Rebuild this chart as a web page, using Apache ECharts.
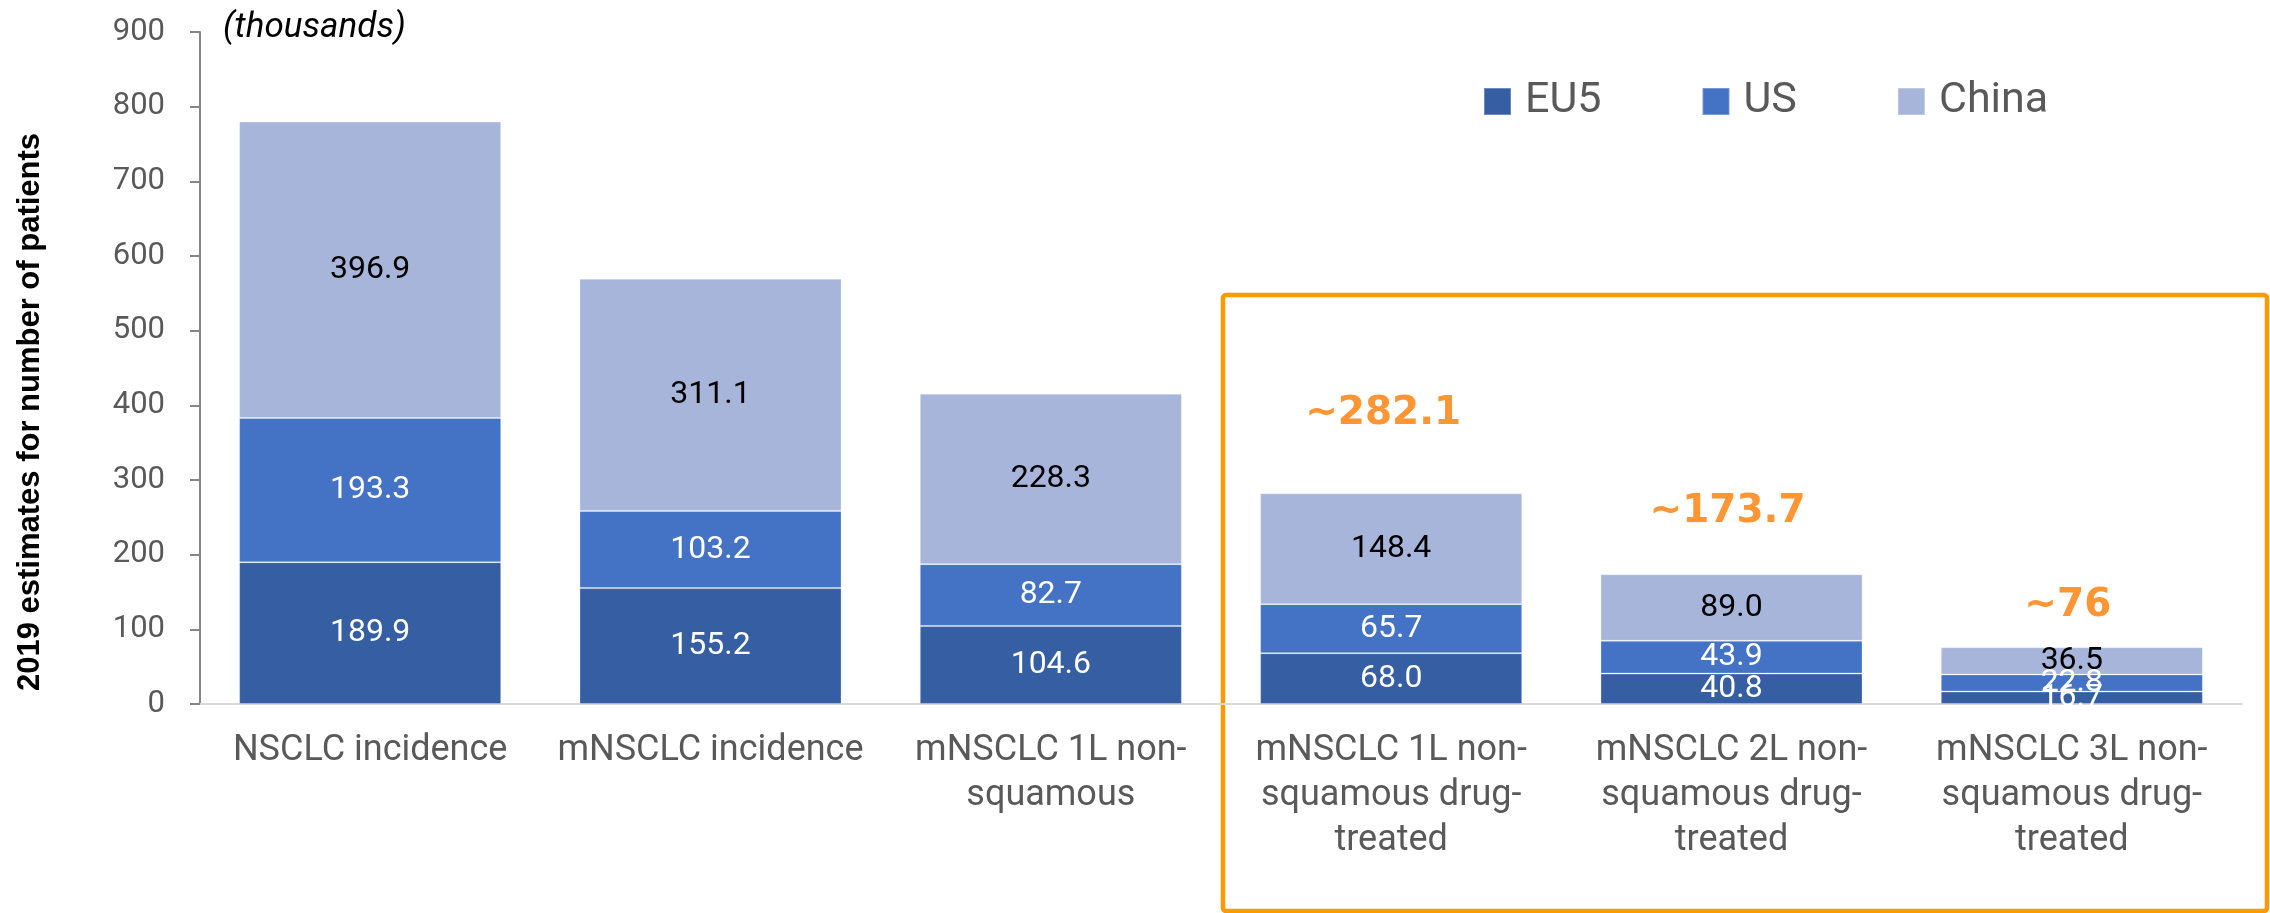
<!DOCTYPE html>
<html>
<head>
<meta charset="utf-8">
<script src="https://cdn.jsdelivr.net/npm/echarts@6/dist/echarts.min.js"></script>
<style>
html,body{margin:0;padding:0;background:#fff;}
#main{width:2270px;height:913px;}
</style>
</head>
<body>
<div id="main"></div>
<script>
const categories = [
  'NSCLC incidence',
  'mNSCLC incidence',
  'mNSCLC 1L non-\nsquamous',
  'mNSCLC 1L non-\nsquamous drug-\ntreated',
  'mNSCLC 2L non-\nsquamous drug-\ntreated',
  'mNSCLC 3L non-\nsquamous drug-\ntreated'
];
const seriesNames = ['EU5', 'US', 'China'];
const eu5Values = [189.9, 155.2, 104.6, 68.0, 40.8, 16.7];
const usValues = [193.3, 103.2, 82.7, 65.7, 43.9, 22.8];
const chinaValues = [396.9, 311.1, 228.3, 148.4, 89.0, 36.5];
const showTotal = [false, false, false, true, true, true];
const yAxisTitle = '2019 estimates for number of patients';
const unitText = '(thousands)';

const totals = eu5Values.map((v, i) => parseFloat((v + usValues[i] + chinaValues[i]).toFixed(1)));

const chart = echarts.init(document.getElementById('main'), null, {renderer: 'canvas'});

const colors = ['#365EA2', '#4472C4', '#A7B5DA'];
const labelColors = ['#ffffff', '#ffffff', '#000000'];
const totalLift = [0, 0, 0, 79, 62, 41];
const totalShift = [0, 0, 0, -8, -4, -4];

function barSeries(name, values, idx) {
  return {
    name: name,
    type: 'bar',
    stack: 'total',
    barWidth: '77%',
    data: values,
    itemStyle: {color: colors[idx], borderColor: 'rgba(255,255,255,0.28)', borderWidth: 1},
    label: {
      show: true,
      position: 'inside',
      formatter: p => p.value.toFixed(1),
      color: labelColors[idx],
      fontFamily: 'Roboto',
      fontSize: 32
    },
    emphasis: {disabled: true}
  };
}

const option = {
  animation: false,
  backgroundColor: '#ffffff',
  grid: {left: 200, right: 28, top: 32, bottom: 209, containLabel: false},
  legend: {
    data: seriesNames,
    left: 1483,
    top: 80,
    padding: 0,
    itemWidth: 27,
    itemHeight: 27,
    itemGap: 100,
    icon: 'rect',
    textStyle: {fontFamily: 'Roboto', fontSize: 43, color: '#595959', padding: [0, 0, 0, 9]}
  },
  xAxis: {
    type: 'category',
    data: categories,
    axisLine: {show: true, lineStyle: {color: '#D9D9D9', width: 2}},
    axisTick: {show: false},
    axisLabel: {
      interval: 0,
      margin: 24,
      fontFamily: 'Roboto',
      fontSize: 36,
      lineHeight: 45,
      color: '#595959',
      verticalAlign: 'top'
    }
  },
  yAxis: {
    type: 'value',
    min: 0,
    max: 900,
    interval: 100,
    axisLine: {show: true, lineStyle: {color: '#868686', width: 2}},
    axisTick: {show: true, length: 10, lineStyle: {color: '#868686', width: 2}},
    splitLine: {show: false},
    axisLabel: {margin: 35, fontFamily: 'Roboto', fontSize: 31, color: '#595959'}
  },
  series: [
    barSeries(seriesNames[0], eu5Values, 0),
    barSeries(seriesNames[1], usValues, 1),
    barSeries(seriesNames[2], chinaValues, 2),
    {
      name: 'Total',
      type: 'scatter',
      symbolSize: 0,
      silent: true,
      z: 10,
      data: totals.map((t, i) => showTotal[i] ? {
        value: [i, t],
        label: {offset: [totalShift[i], -totalLift[i]]}
      } : {value: [i, null]}),
      label: {
        show: true,
        position: 'inside',
        formatter: p => p.value[1] == null ? '' : '~' + p.value[1],
        fontFamily: 'DejaVu Sans',
        fontWeight: 'bold',
        fontSize: 39,
        color: '#FF7A00'
      }
    }
  ],
  graphic: [
    {
      type: 'text',
      x: 30,
      y: 412,
      rotation: Math.PI / 2,
      style: {
        text: yAxisTitle,
        font: 'bold 31px "Liberation Sans", Arial, sans-serif',
        fill: '#000000',
        align: 'center',
        verticalAlign: 'middle'
      }
    },
    {
      type: 'text',
      x: 223,
      y: 28,
      style: {
        text: unitText,
        font: 'italic 35px Roboto, sans-serif',
        fill: '#000000',
        align: 'left',
        verticalAlign: 'middle'
      }
    },
    {
      type: 'rect',
      shape: {x: 1223, y: 295, width: 1044, height: 616, r: 3},
      style: {fill: 'none', stroke: '#FF9900', lineWidth: 4.5},
      silent: true
    }
  ]
};

chart.setOption(option);
</script>
</body>
</html>
